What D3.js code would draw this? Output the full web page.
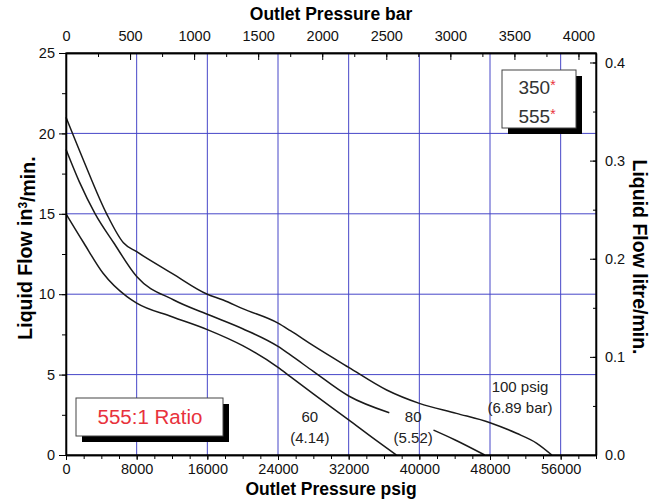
<!DOCTYPE html>
<html>
<head>
<meta charset="utf-8">
<script src="https://cdn.jsdelivr.net/npm/d3@7"></script>
<style>
body { margin: 0; background: #fff; }
text { font-family: "Liberation Sans", Arial, sans-serif; }
</style>
</head>
<body>
<script>
// tick values
const psigTicks = [0, 8000, 16000, 24000, 32000, 40000, 48000, 56000];
const barTicks = [0, 500, 1000, 1500, 2000, 2500, 3000, 3500, 4000];
const flowTicks = [0, 5, 10, 15, 20, 25];
const litreTicks = [0, 0.1, 0.2, 0.3, 0.4];

// curves: [outlet psig, liquid flow in3/min], null = gap for label
const curve60 = [[0, 15], [2000, 13.2], [4200, 11.3], [6900, 9.85], [8000, 9.45], [12000, 8.6],
    [16000, 7.8], [20000, 6.8], [24000, 5.45], [25400, 4.87], [28000, 3.8], [32000, 2.18],
    [35000, 0.95], [37400, 0]];
const curve80 = [[0, 19], [1500, 17], [3300, 15], [5400, 13.2], [8000, 11.1], [12200, 9.64],
    [16000, 8.75], [20000, 7.85], [24000, 6.75], [25400, 6.22], [28000, 5.2], [32000, 3.67],
    [36600, 2.63], null, [41600, 1.55], [44000, 0.95], [47400, 0]];
const curve100 = [[0, 21], [2000, 18.3], [4600, 15], [6500, 13.2], [8000, 12.64], [12000, 11.3],
    [16000, 10], [17800, 9.64], [20000, 9.1], [24000, 8.2], [25400, 7.73], [28000, 6.8],
    [32000, 5.45], [36300, 4.04], [40000, 3.21], [44200, 2.59], [48000, 2.01], [51000, 1.35],
    [53300, 0.73], [55000, 0]];

// curve labels [psig, flow, line1, line2]
const curveLabels = [
    [27600, 2.05, "60", "(4.14)"],
    [39300, 2.05, "80", "(5.52)"],
    [51400, 3.92, "100 psig", "(6.89 bar)"]
];

const psigPerBar = 14.5038;
const litrePerIn3 = 0.0163871;

const width = 661;
const height = 500;
const plotLeft = 66, plotRight = 596, plotTop = 53, plotBottom = 455;

const x = d3.scaleLinear().domain([0, 60000]).range([plotLeft, plotRight]);
const xBar = d3.scaleLinear().domain([0, 60000 / psigPerBar]).range([plotLeft, plotRight]);
const y = d3.scaleLinear().domain([0, 25]).range([plotBottom, plotTop]);
const yLitre = d3.scaleLinear().domain([0, 25 * litrePerIn3]).range([plotBottom, plotTop]);

const svg = d3.select('body').append('svg')
    .attr("width", width).attr("height", height);

// grid
const gridColor = "#4646c8";
svg.append('g').selectAll('line').data(psigTicks.slice(1)).enter().append('line')
    .attr("x1", d => x(d)).attr("x2", d => x(d))
    .attr("y1", plotTop).attr("y2", plotBottom)
    .attr("stroke", gridColor).attr("stroke-width", 1);
svg.append('g').selectAll('line').data(flowTicks.slice(1, -1)).enter().append('line')
    .attr("x1", plotLeft).attr("x2", plotRight)
    .attr("y1", d => y(d)).attr("y2", d => y(d))
    .attr("stroke", gridColor).attr("stroke-width", 1);

// curves
const line = d3.line()
    .defined(d => d !== null)
    .x(d => x(d[0])).y(d => y(d[1]))
    .curve(d3.curveMonotoneX);

[curve60, curve80, curve100].forEach(c => {
    svg.append('path').datum(c)
        .attr("d", line)
        .attr("fill", "none")
        .attr("stroke", "#1a1a1a")
        .attr("stroke-width", 1.5);
});

curveLabels.forEach(l => {
    const t = svg.append('text')
        .attr("x", x(l[0])).attr("y", y(l[1]))
        .attr("text-anchor", "middle")
        .style("font-size", "15px").attr("fill", "#222");
    t.append('tspan').attr("x", x(l[0])).attr("dy", "0").text(l[2]);
    t.append('tspan').attr("x", x(l[0])).attr("dy", "1.43em").text(l[3]);
});

// axes
function styleAxis(g, size) {
    g.selectAll('text').style("font-size", size).attr("fill", "#111");
    g.selectAll('line').attr("stroke", "#000");
    g.select('.domain').attr("stroke", "#000").attr("stroke-width", 1.3);
}

const minorPsig = d3.range(0, 60001, 2000);
const minorBar = d3.range(0, 4101, 250);
const minorFlow = d3.range(0, 25.1, 2.5);
const minorLitre = d3.range(0, 0.41, 0.05);
const tickFont = "14.5px";

// bottom
svg.append('g').attr("transform", "translate(0," + plotBottom + ")")
    .call(d3.axisBottom(x).tickValues(minorPsig).tickFormat("").tickSizeInner(4).tickSizeOuter(0))
    .call(g => styleAxis(g, tickFont));
svg.append('g').attr("transform", "translate(0," + plotBottom + ")")
    .call(d3.axisBottom(x).tickValues(psigTicks).tickFormat(d3.format("d")).tickSizeInner(5).tickSizeOuter(0).tickPadding(4))
    .call(g => styleAxis(g, tickFont));

// top
svg.append('g').attr("transform", "translate(0," + plotTop + ")")
    .call(d3.axisTop(xBar).tickValues(minorBar).tickFormat("").tickSizeInner(-4).tickSizeOuter(0))
    .call(g => styleAxis(g, tickFont));
svg.append('g').attr("transform", "translate(0," + plotTop + ")")
    .call(d3.axisTop(xBar).tickValues(barTicks).tickFormat(d3.format("d")).tickSizeInner(-7).tickSizeOuter(0).tickPadding(12))
    .call(g => styleAxis(g, tickFont));

// left
svg.append('g').attr("transform", "translate(" + plotLeft + ",0)")
    .call(d3.axisLeft(y).tickValues(minorFlow).tickFormat("").tickSizeInner(4).tickSizeOuter(0))
    .call(g => styleAxis(g, tickFont));
svg.append('g').attr("transform", "translate(" + plotLeft + ",0)")
    .call(d3.axisLeft(y).tickValues(flowTicks).tickFormat(d3.format("d")).tickSizeInner(7).tickSizeOuter(0).tickPadding(4))
    .call(g => styleAxis(g, tickFont));

// right
svg.append('g').attr("transform", "translate(" + plotRight + ",0)")
    .call(d3.axisRight(yLitre).tickValues(minorLitre).tickFormat("").tickSizeInner(-3).tickSizeOuter(0))
    .call(g => styleAxis(g, tickFont));
svg.append('g').attr("transform", "translate(" + plotRight + ",0)")
    .call(d3.axisRight(yLitre).tickValues(litreTicks).tickFormat(d3.format(".1f")).tickSizeInner(-6).tickSizeOuter(0).tickPadding(9))
    .call(g => styleAxis(g, tickFont));

// frame
svg.append('rect').attr("x", plotLeft).attr("y", plotTop)
    .attr("width", plotRight - plotLeft).attr("height", plotBottom - plotTop)
    .attr("fill", "none").attr("stroke", "#000").attr("stroke-width", 1.3);

// titles
svg.append('text').attr("x", (plotLeft + plotRight) / 2).attr("y", 20)
    .attr("text-anchor", "middle").style("font-size", "17.5px").style("font-weight", "bold")
    .text("Outlet Pressure bar");
svg.append('text').attr("x", (plotLeft + plotRight) / 2).attr("y", 495)
    .attr("text-anchor", "middle").style("font-size", "17.5px").style("font-weight", "bold")
    .text("Outlet Pressure psig");

const leftTitle = svg.append('text')
    .attr("transform", "translate(32,248) rotate(-90)")
    .attr("text-anchor", "middle").style("font-size", "19.5px").style("font-weight", "bold");
leftTitle.append('tspan').text("Liquid Flow in");
leftTitle.append('tspan').attr("dy", "-0.45em").style("font-size", "12px").text("3");
leftTitle.append('tspan').attr("dy", "0.45em").text("/min.");

svg.append('text')
    .attr("transform", "translate(633,257) rotate(90)")
    .attr("text-anchor", "middle").style("font-size", "19.5px").style("font-weight", "bold")
    .text("Liquid Flow litre/min.");

// shadow boxes
function shadowBox(bx, by, bw, bh) {
    svg.append('rect').attr("x", bx + 6).attr("y", by + 6)
        .attr("width", bw).attr("height", bh).attr("fill", "#000");
    svg.append('rect').attr("x", bx).attr("y", by)
        .attr("width", bw).attr("height", bh)
        .attr("fill", "#fff").attr("stroke", "#444").attr("stroke-width", 1);
}

shadowBox(502, 70, 74, 58);
["350", "555"].forEach((m, i) => {
    const t = svg.append('text').attr("x", 537).attr("y", 94 + i * 29)
        .attr("text-anchor", "middle").style("font-size", "19px").attr("fill", "#333");
    t.append('tspan').text(m);
    t.append('tspan').attr("dy", "-0.3em").style("font-size", "14px").attr("fill", "#e8323c").text("*");
});

shadowBox(76, 398, 147, 38);
svg.append('text').attr("x", 150).attr("y", 424)
    .attr("text-anchor", "middle").style("font-size", "20.5px").attr("fill", "#e8323c")
    .text("555:1 Ratio");
</script>
</body>
</html>
